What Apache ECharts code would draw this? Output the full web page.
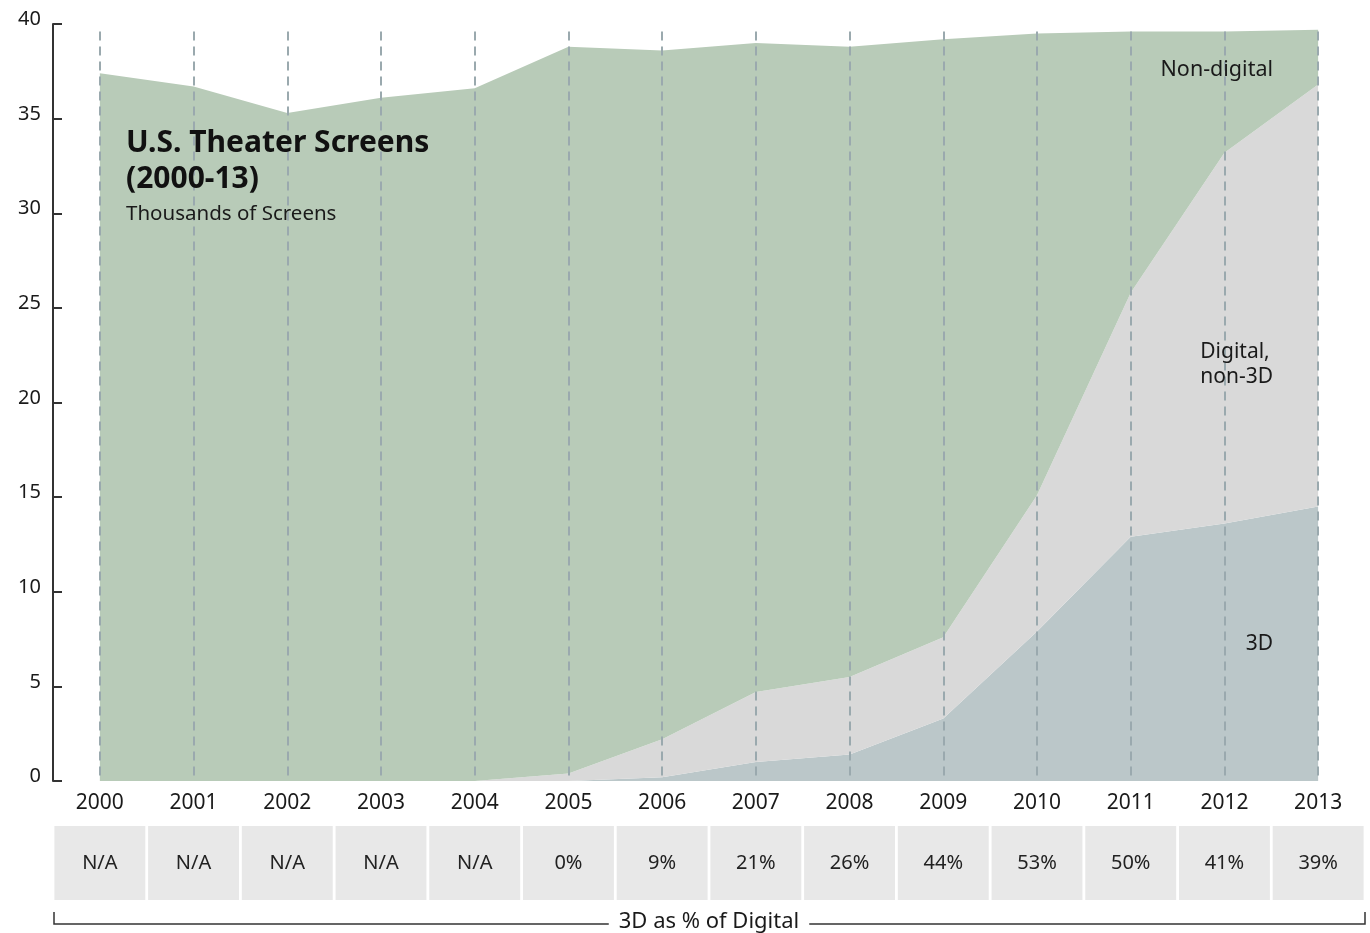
<!DOCTYPE html>
<html>
<head>
<meta charset="utf-8">
<script src="https://cdn.jsdelivr.net/npm/echarts@6/dist/echarts.min.js"></script>
<style>
  html, body { margin: 0; padding: 0; background: #fff; }
  #chart { width: 1370px; height: 933px; }
</style>
</head>
<body>
<div id="chart"></div>
<script>
// 年份
const years = ['2000', '2001', '2002', '2003', '2004', '2005', '2006', '2007', '2008', '2009', '2010', '2011', '2012', '2013'];
// 3D 屏幕 (千块)
const screens3D = [0, 0, 0, 0, 0, 0, 0.2, 1.0, 1.4, 3.3, 7.9, 12.9, 13.6, 14.5];
// 数字非 3D
const digitalNon3D = [0, 0, 0, 0, 0, 0.4, 2.0, 3.7, 4.1, 4.3, 7.2, 12.9, 19.6, 22.3];
// 非数字
const nonDigital = [37.4, 36.7, 35.3, 36.1, 36.6, 38.4, 36.4, 34.3, 33.3, 31.6, 24.4, 13.8, 6.4, 2.9];
// 3D 占数字比例
const pct3D = ['N/A', 'N/A', 'N/A', 'N/A', 'N/A', '0%', '9%', '21%', '26%', '44%', '53%', '50%', '41%', '39%'];
const yTicks = [0, 5, 10, 15, 20, 25, 30, 35, 40];

const font = '"Noto Sans", "Open Sans", sans-serif';
const textColor = '#1a1a1a';

const chart = echarts.init(document.getElementById('chart'));

// 竖向虚线, 放在每个年份中心
const dashLines = years.map(y => [{ xAxis: y, yAxis: 39.6 }, { xAxis: y, yAxis: 0 }]);

const option = {
  animation: false,
  grid: [
    { left: 53, right: 5, top: 24, bottom: 152 },
    { left: 53, right: 5, top: 826, height: 74 }
  ],
  xAxis: [
    {
      type: 'category',
      data: years,
      boundaryGap: true,
      axisLine: { show: false },
      axisTick: { show: false },
      axisLabel: { color: textColor, fontSize: 21, fontFamily: font, margin: 12 },
      splitLine: { show: false }
    },
    {
      type: 'category',
      gridIndex: 1,
      data: years,
      show: false
    }
  ],
  yAxis: [
    {
      type: 'value',
      min: yTicks[0],
      max: yTicks[yTicks.length - 1],
      interval: 5,
      axisLine: { show: true, lineStyle: { color: '#333', width: 2 } },
      axisTick: { show: true, inside: true, length: 9, lineStyle: { color: '#333', width: 2 } },
      axisLabel: {
        margin: 12,
        formatter: v => '{a|' + v + '}',
        rich: { a: { color: textColor, fontSize: 20, fontFamily: font, padding: [0, 0, 9, 0] } }
      },
      splitLine: { show: false }
    },
    {
      type: 'value',
      gridIndex: 1,
      min: 0,
      max: 1,
      show: false
    }
  ],
  series: [
    {
      name: '3D',
      type: 'line',
      stack: 'screens',
      data: screens3D,
      showSymbol: false,
      lineStyle: { width: 0 },
      areaStyle: { color: '#bbc7c9', opacity: 1 }
    },
    {
      name: 'Digital, non-3D',
      type: 'line',
      stack: 'screens',
      data: digitalNon3D,
      showSymbol: false,
      lineStyle: { width: 0 },
      areaStyle: { color: '#d9d9d9', opacity: 1 }
    },
    {
      name: 'Non-digital',
      type: 'line',
      stack: 'screens',
      data: nonDigital,
      showSymbol: false,
      lineStyle: { width: 0 },
      areaStyle: { color: '#b8cbb8', opacity: 1 }
    },
    {
      // 虚线层
      type: 'line',
      data: [],
      z: 10,
      silent: true,
      markLine: {
        symbol: 'none',
        silent: true,
        label: { show: false },
        lineStyle: { color: '#9aa9ae', type: [9, 6], width: 2 },
        data: dashLines
      }
    },
    {
      // 下方表格
      type: 'bar',
      xAxisIndex: 1,
      yAxisIndex: 1,
      data: years.map(() => 1),
      barWidth: '97%',
      itemStyle: { color: '#e8e8e8' },
      label: {
        show: true,
        position: 'inside',
        color: '#222',
        fontSize: 20,
        fontFamily: font,
        formatter: p => pct3D[p.dataIndex]
      }
    }
  ],
  graphic: [
    {
      type: 'text', left: 126, top: 125, z: 100,
      style: { text: 'U.S. Theater Screens\n(2000-13)', font: 'bold 30px ' + font, fill: '#111', lineHeight: 36 }
    },
    {
      type: 'text', left: 126, top: 204, z: 100,
      style: { text: 'Thousands of Screens', font: '20.5px ' + font, fill: textColor }
    },
    {
      type: 'text', right: 97, top: 59, z: 100,
      style: { text: 'Non-digital', font: '21.5px ' + font, fill: textColor, align: 'right' }
    },
    {
      type: 'text', right: 97, top: 340, z: 100,
      style: { text: 'Digital,\nnon-3D', font: '21px ' + font, fill: textColor, align: 'right', lineHeight: 25 }
    },
    {
      type: 'text', right: 97, top: 634, z: 100,
      style: { text: '3D', font: '21px ' + font, fill: textColor, align: 'right' }
    },
    {
      type: 'polyline', z: 100,
      shape: { points: [[54, 912], [54, 924], [1365, 924], [1365, 912]] },
      style: { stroke: '#333', lineWidth: 1.5, fill: null }
    },
    {
      type: 'text', x: 709, y: 922, z: 101,
      style: {
        text: '3D as % of Digital', font: '22px ' + font, fill: textColor,
        align: 'center', verticalAlign: 'middle', backgroundColor: '#fff', padding: [2, 10]
      }
    }
  ]
};

chart.setOption(option);
</script>
</body>
</html>
